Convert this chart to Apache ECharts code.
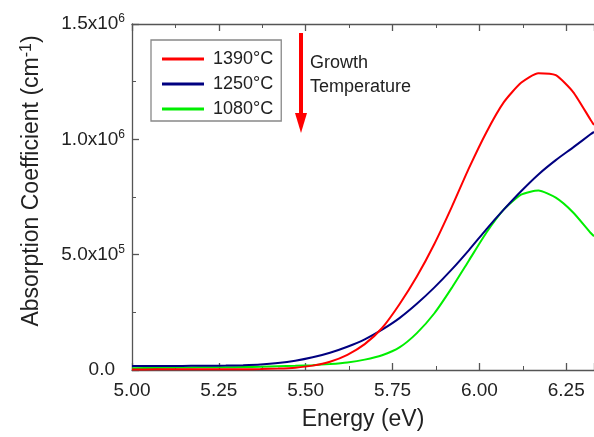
<!DOCTYPE html>
<html>
<head>
<meta charset="utf-8">
<script src="https://cdn.jsdelivr.net/npm/echarts@6/dist/echarts.min.js"></script>
<style>
  html, body { margin: 0; padding: 0; background: #fff; }
  #main { width: 594px; height: 437px; }
</style>
</head>
<body>
<div id="main"></div>
<script>
// energy (eV) and absorption coefficient (cm^-1)
var energy = [5.00, 5.07, 5.12, 5.17, 5.22, 5.27, 5.32, 5.37, 5.42, 5.47, 5.52, 5.57, 5.62, 5.67,
  5.72, 5.77, 5.82, 5.87, 5.92, 5.97, 6.02, 6.07, 6.12, 6.17, 6.22, 6.27, 6.32, 6.33];
var alpha1390 = [2000, 3000, 3000, 3000, 3000, 3000, 3000, 4000, 6000, 10000, 19000, 36000, 66000, 112000,
  182000, 285000, 405000, 545000, 705000, 875000, 1030000, 1160000, 1245000, 1287000, 1278000, 1205000, 1085000, 1062000];
var alpha1250 = [17000, 17000, 17000, 18000, 18000, 19000, 21000, 24000, 30000, 40000, 55000, 75000, 101000, 133000,
  175000, 225000, 287000, 357000, 435000, 520000, 610000, 695000, 775000, 848000, 910000, 965000, 1022000, 1032000];
var alpha1080 = [8000, 9000, 10000, 11000, 12000, 12000, 13000, 14000, 16000, 18000, 21000, 26000, 33000, 45000,
  64000, 98000, 160000, 245000, 355000, 475000, 595000, 695000, 760000, 778000, 747000, 683000, 595000, 580000];
var seriesNames = ['1390°C', '1250°C', '1080°C'];
var seriesColors = ['#ff0000', '#000080', '#00ee00'];

var font = 'Liberation Sans, Arial, sans-serif';

function pairs(ys) {
  return energy.map(function (x, i) { return [x, ys[i]]; });
}

function sciLabel(v) {
  if (v === 0) return '{z|0.0}';
  var exp = Math.floor(Math.log10(v) + 1e-9);
  var m = v / Math.pow(10, exp);
  return '{a|' + m.toFixed(1) + 'x10}{s|' + exp + '}';
}

var chart = echarts.init(document.getElementById('main'));

var xCommon = {
  type: 'value',
  min: 5,
  max: 6.33,
  interval: 0.25,
  axisLine: { show: true, onZero: false, lineStyle: { color: '#555', width: 1.3 } },
  axisTick: { inside: true, length: 7, lineStyle: { color: '#555', width: 1.3 } },
  minorTick: { show: true, splitNumber: 2, length: 4, lineStyle: { color: '#555', width: 1 } },
  splitLine: { show: false }
};

var option = {
  backgroundColor: '#fff',
  animation: false,
  grid: { left: 132, right: 0, top: 24, bottom: 67 },
  legend: {
    data: seriesNames,
    orient: 'vertical',
    left: 151,
    top: 40,
    width: 131,
    padding: [9, 8, 2, 11],
    itemGap: 5,
    itemWidth: 42,
    itemHeight: 3,
    icon: 'rect',
    borderColor: '#888',
    borderWidth: 1.3,
    textStyle: { fontFamily: font, fontSize: 18, color: '#222', lineHeight: 20, padding: [0, 0, 0, 4] }
  },
  xAxis: [
    Object.assign({}, xCommon, {
      position: 'bottom',
      name: 'Energy (eV)',
      nameLocation: 'middle',
      nameGap: 38,
      nameTextStyle: { fontFamily: font, fontSize: 23, color: '#222' },
      axisLabel: {
        margin: 11,
        showMaxLabel: false,
        fontFamily: font, fontSize: 19, color: '#222',
        formatter: function (v) { return v.toFixed(2); }
      }
    }),
    Object.assign({}, xCommon, {
      position: 'top',
      axisLabel: { show: false }
    })
  ],
  yAxis: {
    type: 'value',
    min: 0,
    max: 1500000,
    interval: 500000,
    axisLine: { show: true, lineStyle: { color: '#555', width: 1.3 } },
    axisTick: { inside: true, length: 7, lineStyle: { color: '#555', width: 1.3 } },
    minorTick: { show: true, splitNumber: 2, length: 4, lineStyle: { color: '#555', width: 1 } },
    splitLine: { show: false },
    axisLabel: {
      margin: 7,
      formatter: sciLabel,
      rich: {
        a: { fontFamily: font, fontSize: 19, color: '#222', lineHeight: 22 },
        s: { fontFamily: font, fontSize: 12, color: '#222', verticalAlign: 'top', lineHeight: 22 },
        z: { fontFamily: font, fontSize: 19, color: '#222', padding: [0, 10, 0, 0] }
      }
    }
  },
  graphic: [
    {
      type: 'text',
      x: 32,
      y: 181,
      rotation: Math.PI / 2,
      style: {
        text: '{a|Absorption Coefficient (cm}{s|-1}{a|)}',
        align: 'center',
        verticalAlign: 'middle',
        rich: {
          a: { fontFamily: font, fontSize: 23, fill: '#222', lineHeight: 26 },
          s: { fontFamily: font, fontSize: 16, fill: '#222', verticalAlign: 'top', lineHeight: 26 }
        }
      }
    },
    { type: 'rect', shape: { x: 299, y: 33, width: 4, height: 82 }, style: { fill: '#ff0000' } },
    { type: 'polygon', shape: { points: [[295, 113], [307, 113], [301, 133]] }, style: { fill: '#ff0000' } },
    { type: 'text', x: 310, y: 63, style: { text: 'Growth', font: '18px ' + font, fill: '#222', verticalAlign: 'middle' } },
    { type: 'text', x: 310, y: 87, style: { text: 'Temperature', font: '18px ' + font, fill: '#222', verticalAlign: 'middle' } }
  ],
  series: [alpha1390, alpha1250, alpha1080].map(function (ys, i) {
    return {
      name: seriesNames[i],
      type: 'line',
      data: pairs(ys),
      smooth: 0.2,
      showSymbol: false,
      symbol: 'none',
      z: 3 - i,
      lineStyle: { color: seriesColors[i], width: 2 },
      itemStyle: { color: seriesColors[i] }
    };
  })
};

chart.setOption(option);
</script>
</body>
</html>
